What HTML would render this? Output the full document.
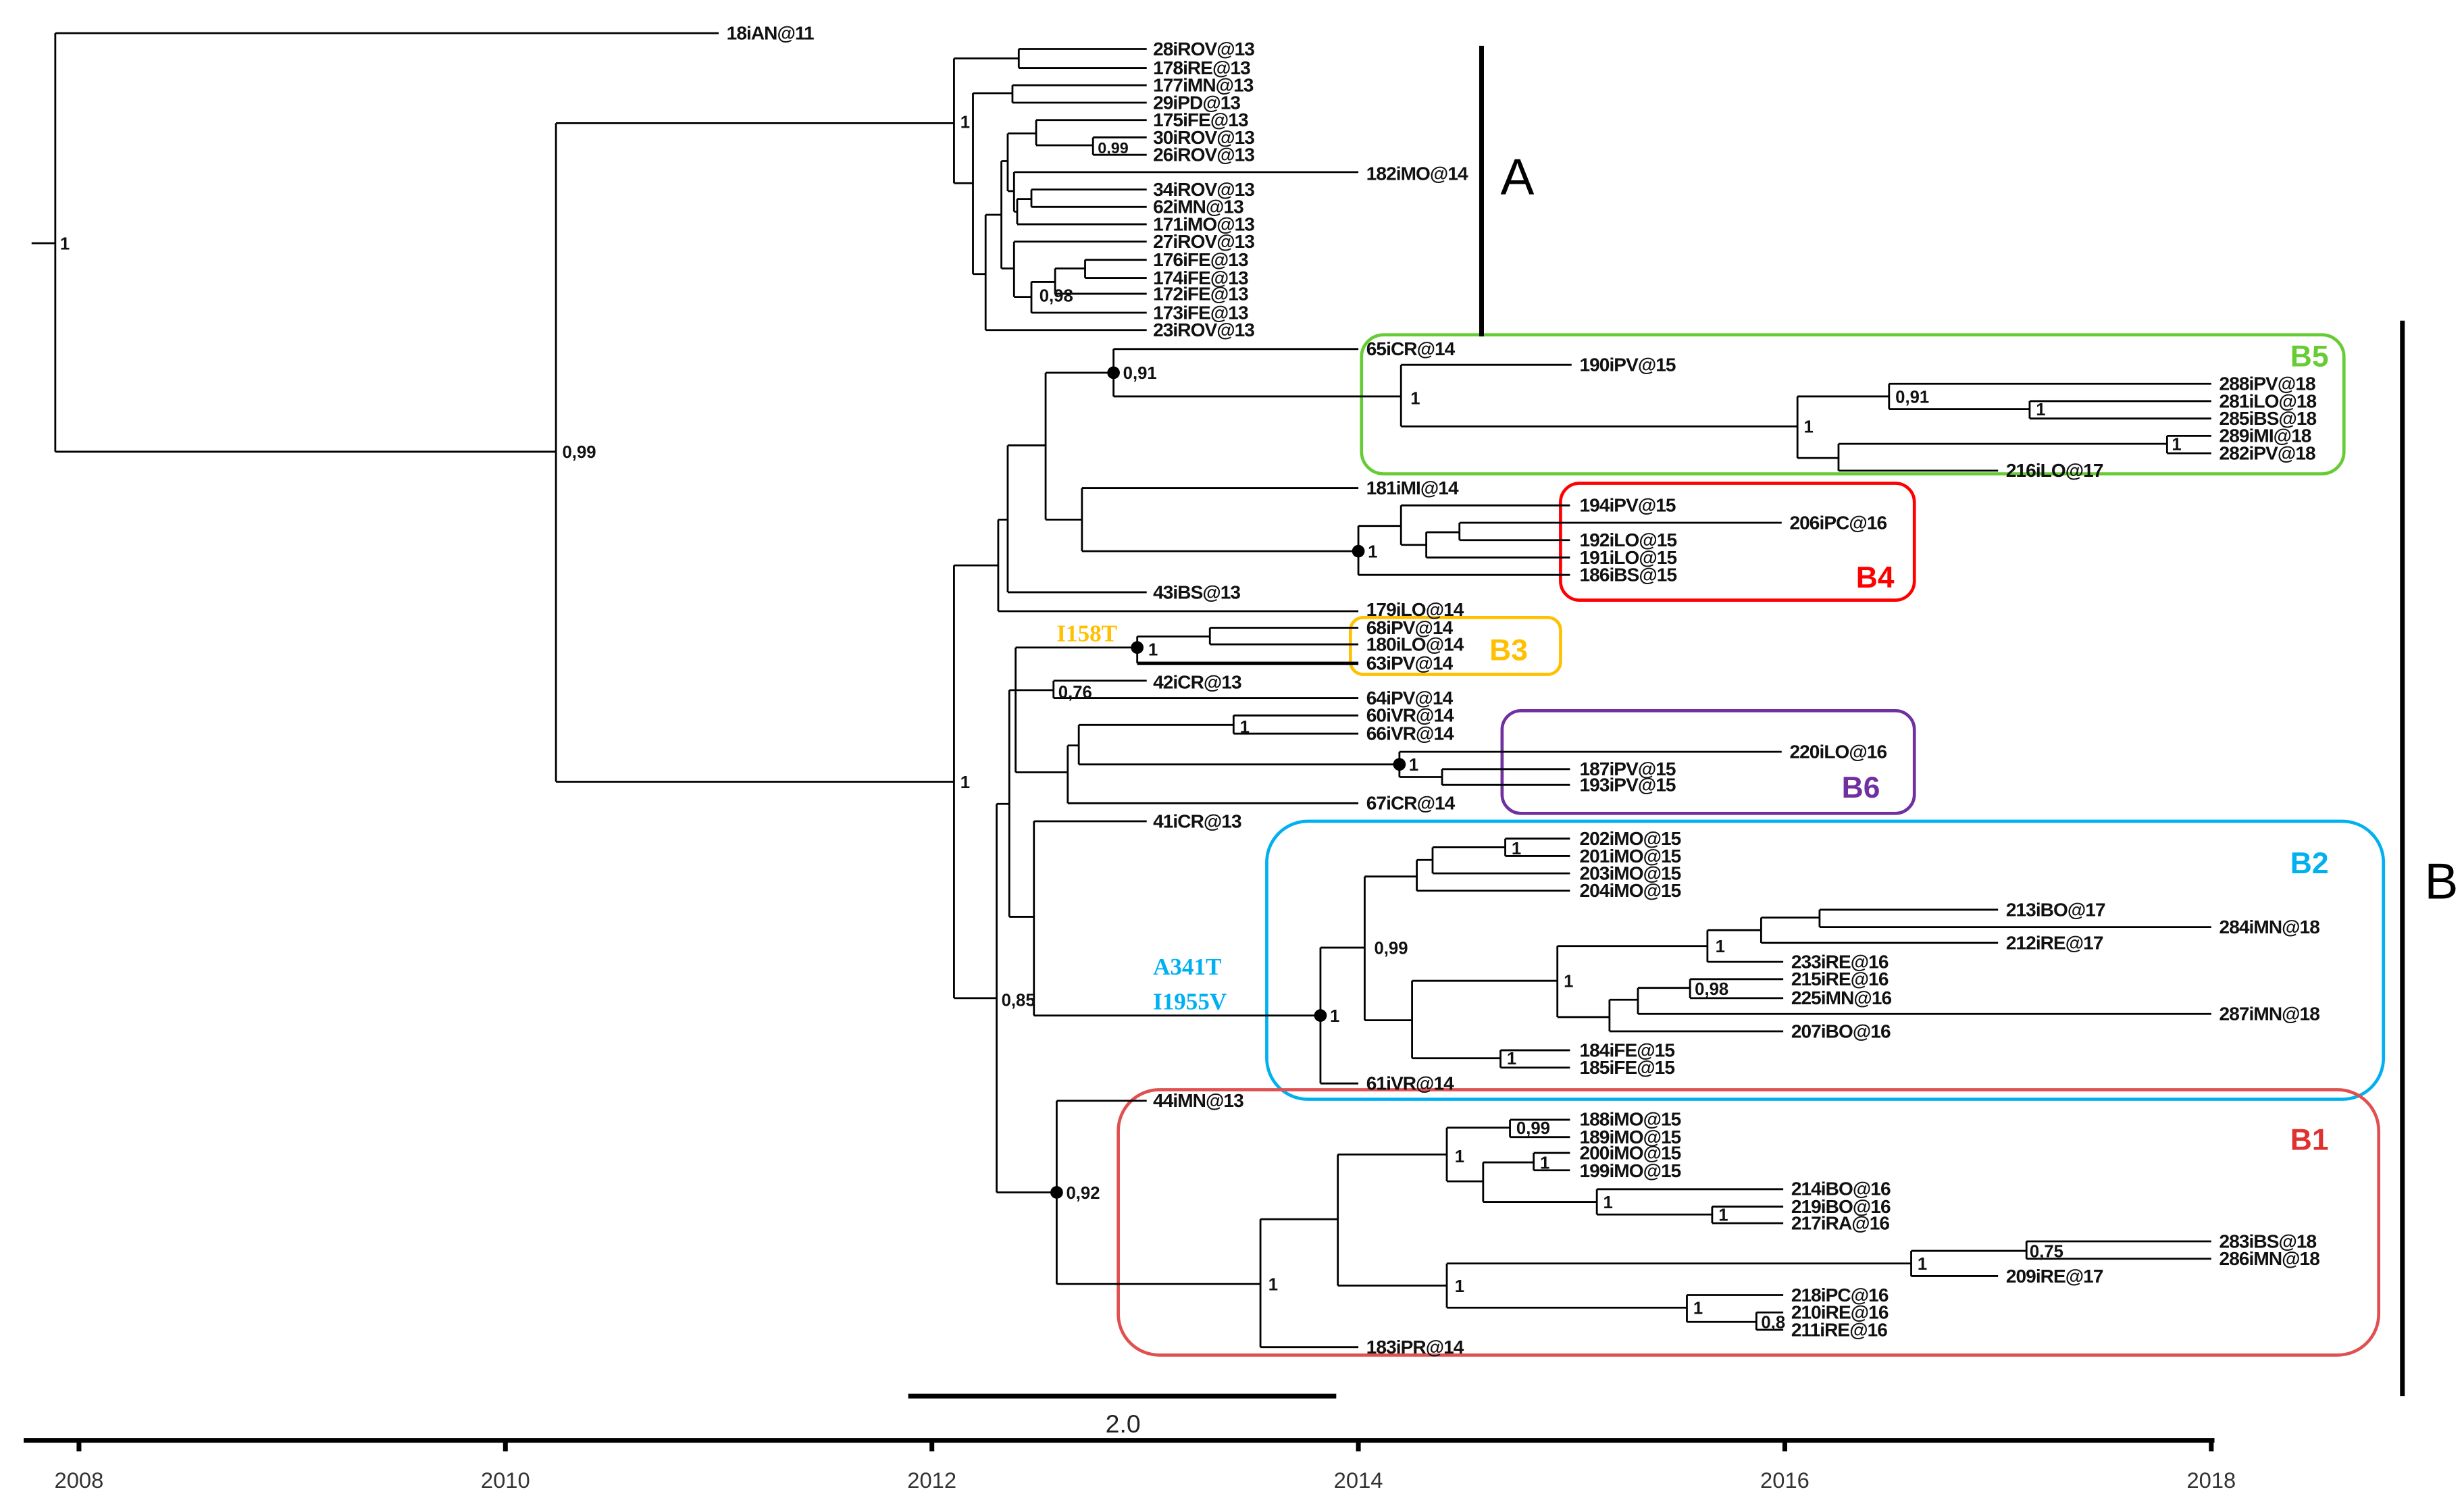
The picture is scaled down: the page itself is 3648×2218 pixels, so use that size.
<!DOCTYPE html>
<html><head><meta charset="utf-8"><style>
html,body{margin:0;padding:0;background:#fff;width:3648px;height:2218px;overflow:hidden}
svg{display:block}
.l{font-family:"Liberation Sans",sans-serif;font-size:12px;font-weight:bold;fill:#111;letter-spacing:-0.4px}
.s{font-family:"Liberation Sans",sans-serif;font-size:11px;font-weight:bold;fill:#111}
</style></head><body>
<svg width="3648" height="2218" viewBox="0 0 1560 948.5" preserveAspectRatio="none" xmlns="http://www.w3.org/2000/svg">
<rect width="1560" height="948.5" fill="#fff"/>
<g fill="none" stroke-linejoin="round">
<rect x="862" y="212" width="622" height="88" rx="14" stroke="#66cc33" stroke-width="2"/>
<rect x="988" y="306" width="224" height="74" rx="12" stroke="#ff0000" stroke-width="2"/>
<rect x="855" y="391" width="133" height="36" rx="8" stroke="#ffc000" stroke-width="2"/>
<rect x="951" y="450" width="261" height="65" rx="12" stroke="#7030a0" stroke-width="2"/>
<rect x="802" y="520" width="707" height="176" rx="26" stroke="#00b0f0" stroke-width="2"/>
<rect x="708" y="690" width="798" height="168" rx="26" stroke="#e05050" stroke-width="2"/>
</g>
<path fill="none" stroke="#000" stroke-width="1.2" d="
M20 154H35M35 21V286M35 21H455M35 286H352M352 78V495M352 78H604M352 495H604
M604 37V116M604 37H645M645 31V43M645 31H726M645 43H726
M604 116H616M616 59V173.5M616 59H641M641 54V65M641 54H726M641 65H726
M616 173.5H624M624 136V209M624 209H726M624 136H634M634 102V170
M634 102H638M638 84.5V121M638 84.5H656M656 76V92M656 76H726M656 92H692M692 87V98M692 87H726M692 98H726
M638 121H642M642 109V134M642 109H860M642 134H644M644 126V142M644 142H726M644 126H653M653 120V131M653 120H726M653 131H726
M634 170H642M642 153V188M642 153H726M642 188H653M653 178.5V198M653 198H726M653 178.5H668M668 170V186M668 186H726M668 170H687M687 164.5V176M687 164.5H726M687 176H726
M604 358V632M604 358H632M632 329V387M632 387H860M632 329H638M638 282V375M638 375H726M638 282H662M662 236V329
M662 236H705M705 221V251M705 221H860M705 251H887M887 231V270M887 231H995M887 270H1138M1138 251V290M1138 251H1196M1196 243V259M1196 243H1400M1196 259H1285M1285 254V265M1285 254H1400M1285 265H1400M1138 290H1164M1164 281V298M1164 298H1265M1164 281H1372M1372 276V287M1372 276H1400M1372 287H1400
M662 329H685M685 309V349M685 309H860M685 349H860M860 333V364M860 364H994M860 333H887M887 320V345M887 320H994M887 345H903M903 337V353M903 353H994M903 337H924M924 331V342M924 331H1128M924 342H994
M604 632H631M631 509V755M631 509H639M639 437V580.5
M639 437H667M667 431V442M667 431H726M667 442H860
M643 410V489M643 410H720M720 403V420M720 403H766M766 397.5V408M766 397.5H860M766 408H860M720 420H860
M643 489H676M676 472V508.6M676 508.6H860M676 472H683M683 459V484M683 459H781M781 453V464.5M781 453H860M781 464.5H860M683 484H886M886 476V492M886 476H1128M886 492H913M913 487V497M913 487H994M913 497H994
M639 580.5H654.6M654.6 520V643M654.6 520H726M654.6 643H836
M836 600V686M836 686H860M836 600H864M864 555V646M864 555H897M897 544.5V564M897 564H994M897 544.5H907M907 536.5V553M907 553H994M907 536.5H953M953 531V542M953 531H994M953 542H994
M864 646H894M894 621V670M894 621H986M986 599V644M986 599H1081M1081 589V609M1081 609H1129M1081 589H1115M1115 581V597M1115 597H1265M1115 581H1152M1152 576V587M1152 576H1265M1152 587H1400
M986 644H1019M1019 633V653M1019 653H1129M1019 633H1037M1037 625.5V642M1037 642H1400M1037 625.5H1070M1070 620V632M1070 620H1129M1070 632H1129
M894 670H950M950 665V676M950 665H994M950 676H994
M631 755H669M669 697V813M669 697H726M669 813H798M798 772V853M798 853H860M798 772H847M847 731V814M847 731H916M916 714V748M916 714H956M956 709V720M956 709H994M956 720H994M916 748H939M939 736V761M939 736H971M971 730V741M971 730H994M971 741H994M939 761H1011M1011 753V769M1011 753H1129M1011 769H1084M1084 764V774.5M1084 764H1129M1084 774.5H1129
M847 814H916M916 800V828M916 800H1210M1210 792V808M1210 808H1265M1210 792H1283M1283 786V797M1283 786H1400M1283 797H1400M916 828H1068M1068 820V837M1068 820H1129M1068 837H1112M1112 831V842M1112 831H1129M1112 842H1129
"/>
<path d="M720 420H860" stroke="#000" stroke-width="2.2"/>
<g fill="#000">
<circle cx="705" cy="236" r="4"/><circle cx="860" cy="349" r="4"/><circle cx="720" cy="410" r="4"/>
<circle cx="886" cy="484" r="4"/><circle cx="836" cy="643" r="4"/><circle cx="669" cy="755" r="4"/>
</g>
<g class="l">
<text x="460" y="25">18iAN@11</text>
<text x="730" y="35">28iROV@13</text><text x="730" y="47">178iRE@13</text><text x="730" y="58">177iMN@13</text>
<text x="730" y="69">29iPD@13</text><text x="730" y="80">175iFE@13</text><text x="730" y="91">30iROV@13</text>
<text x="730" y="102">26iROV@13</text><text x="865" y="114">182iMO@14</text><text x="730" y="124">34iROV@13</text>
<text x="730" y="135">62iMN@13</text><text x="730" y="146">171iMO@13</text><text x="730" y="157">27iROV@13</text>
<text x="730" y="168.5">176iFE@13</text><text x="730" y="180">174iFE@13</text><text x="730" y="190">172iFE@13</text>
<text x="730" y="202">173iFE@13</text><text x="730" y="213">23iROV@13</text>
<text x="865" y="225">65iCR@14</text><text x="1000" y="235">190iPV@15</text>
<text x="1405" y="247">288iPV@18</text><text x="1405" y="258">281iLO@18</text><text x="1405" y="269">285iBS@18</text>
<text x="1405" y="280">289iMI@18</text><text x="1405" y="291">282iPV@18</text><text x="1270" y="302">216iLO@17</text>
<text x="865" y="313">181iMI@14</text><text x="1000" y="324">194iPV@15</text><text x="1133" y="335">206iPC@16</text>
<text x="1000" y="346">192iLO@15</text><text x="1000" y="357">191iLO@15</text><text x="1000" y="368">186iBS@15</text>
<text x="730" y="379">43iBS@13</text><text x="865" y="390">179iLO@14</text>
<text x="865" y="401.5">68iPV@14</text><text x="865" y="412">180iLO@14</text><text x="865" y="424">63iPV@14</text>
<text x="730" y="436">42iCR@13</text><text x="865" y="446">64iPV@14</text><text x="865" y="457">60iVR@14</text>
<text x="865" y="468.5">66iVR@14</text><text x="1133" y="480">220iLO@16</text><text x="1000" y="491">187iPV@15</text>
<text x="1000" y="501">193iPV@15</text><text x="865" y="512.6">67iCR@14</text><text x="730" y="524">41iCR@13</text>
<text x="1000" y="535">202iMO@15</text><text x="1000" y="546">201iMO@15</text><text x="1000" y="557">203iMO@15</text>
<text x="1000" y="568">204iMO@15</text><text x="1270" y="580">213iBO@17</text><text x="1405" y="591">284iMN@18</text>
<text x="1270" y="601">212iRE@17</text><text x="1134" y="613">233iRE@16</text><text x="1134" y="624">215iRE@16</text>
<text x="1134" y="636">225iMN@16</text><text x="1405" y="646">287iMN@18</text><text x="1134" y="657">207iBO@16</text>
<text x="1000" y="669">184iFE@15</text><text x="1000" y="680">185iFE@15</text><text x="865" y="690">61iVR@14</text>
<text x="730" y="701">44iMN@13</text>
<text x="1000" y="712.7">188iMO@15</text><text x="1000" y="724">189iMO@15</text><text x="1000" y="734">200iMO@15</text>
<text x="1000" y="745.3">199iMO@15</text><text x="1134" y="756.7">214iBO@16</text><text x="1134" y="768">219iBO@16</text>
<text x="1134" y="778.5">217iRA@16</text><text x="1405" y="790">283iBS@18</text><text x="1405" y="801">286iMN@18</text>
<text x="1270" y="812">209iRE@17</text><text x="1134" y="824">218iPC@16</text><text x="1134" y="835">210iRE@16</text>
<text x="1134" y="846">211iRE@16</text><text x="865" y="857">183iPR@14</text>
</g>
<g class="s">
<text x="38" y="158">1</text><text x="356" y="290">0,99</text><text x="608" y="81">1</text>
<text x="695" y="97" font-size="10">0,99</text><text x="658" y="191">0,98</text>
<text x="711" y="240">0,91</text><text x="893" y="256">1</text><text x="1200" y="255">0,91</text>
<text x="1289" y="263">1</text><text x="1142" y="274">1</text><text x="1375" y="285">1</text>
<text x="866" y="353">1</text><text x="608" y="499">1</text><text x="634" y="637">0,85</text>
<text x="727" y="415">1</text><text x="670" y="442">0,76</text><text x="785" y="464">1</text>
<text x="892" y="488">1</text><text x="870" y="604">0,99</text><text x="842" y="647">1</text>
<text x="957" y="541">1</text><text x="1086" y="603">1</text><text x="990" y="625">1</text>
<text x="1073" y="630">0,98</text><text x="954" y="674">1</text><text x="675" y="759">0,92</text>
<text x="803" y="817">1</text><text x="921" y="736">1</text><text x="960" y="718">0,99</text>
<text x="975" y="740">1</text><text x="1015" y="765">1</text><text x="1088" y="773">1</text>
<text x="921" y="818">1</text><text x="1214" y="804">1</text><text x="1285" y="796">0,75</text>
<text x="1072" y="832">1</text><text x="1115" y="841">0,8</text>
</g>
<g font-family="Liberation Sans,sans-serif" font-weight="bold" font-size="19">
<text x="1450" y="232" fill="#66cc33">B5</text>
<text x="1175" y="372" fill="#ff0000">B4</text>
<text x="943" y="418" fill="#ffc000">B3</text>
<text x="1166" y="505" fill="#7030a0">B6</text>
<text x="1450" y="553" fill="#00b0f0">B2</text>
<text x="1450" y="728" fill="#e03030">B1</text>
</g>
<g font-family="Liberation Serif,serif" font-weight="bold" font-size="15">
<text x="669" y="406" fill="#ffc000">I158T</text>
<text x="730" y="617" fill="#00b0f0">A341T</text>
<text x="730" y="639" fill="#00b0f0">I1955V</text>
</g>
<path d="M938 29V213M1521 203V884" stroke="#000" stroke-width="3"/>
<text x="950" y="123" font-family="Liberation Sans,sans-serif" font-size="32" fill="#000">A</text>
<text x="1535" y="569" font-family="Liberation Sans,sans-serif" font-size="32" fill="#000">B</text>
<path d="M575 884H846" stroke="#000" stroke-width="3"/>
<text x="711" y="907" text-anchor="middle" font-family="Liberation Sans,sans-serif" font-size="16" fill="#222">2.0</text>
<path d="M15 912H1402M50 912V919M320 912V919M590 912V919M860 912V919M1130 912V919M1400 912V919" stroke="#000" stroke-width="3"/>
<g font-family="Liberation Sans,sans-serif" font-size="14" fill="#333" text-anchor="middle">
<text x="50" y="942">2008</text><text x="320" y="942">2010</text><text x="590" y="942">2012</text>
<text x="860" y="942">2014</text><text x="1130" y="942">2016</text><text x="1400" y="942">2018</text>
</g>
</svg>
</body></html>
